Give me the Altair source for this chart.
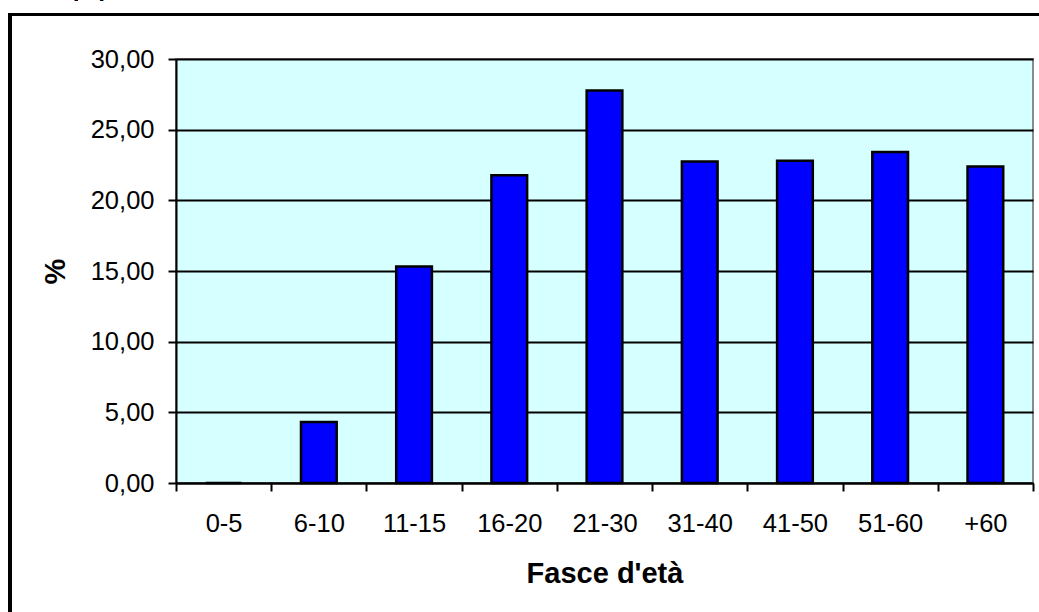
import altair as alt
import pandas as pd

# Age bands and share of each band (%)
fasce = ["0-5", "6-10", "11-15", "16-20", "21-30", "31-40", "41-50", "51-60", "+60"]
percentuali = [0.0, 4.32, 15.31, 21.78, 27.78, 22.74, 22.80, 23.42, 22.40]
y_ticks = [0, 5, 10, 15, 20, 25, 30]

df = pd.DataFrame({"fascia": fasce, "pct": percentuali})

FONT = "Liberation Sans"
W, H = 857, 424

bars = alt.Chart(df).mark_bar(
    color="#0000FF",
    stroke="#000000",
    strokeWidth=2.5,
    width=alt.RelativeBandSize(0.375),
).encode(
    x=alt.X(
        "fascia:N",
        sort=fasce,
        scale=alt.Scale(paddingInner=0, paddingOuter=0),
        axis=alt.Axis(
            title="Fasce d'età",
            tickBand="extent",
            labelAngle=0,
            labelFont=FONT,
            labelFontSize=25.5,
            labelColor="#000000",
            labelBaseline="alphabetic",
            labelPadding=40,
            tickSize=8,
            tickColor="#000000",
            tickWidth=2,
            domainColor="#000000",
            domainWidth=2,
            grid=False,
            titleFont=FONT,
            titleFontSize=29,
            titleFontWeight="bold",
            titleColor="#000000",
            titleX=W / 2,
            titleY=99,
            titleAlign="center",
            titleBaseline="alphabetic",
        ),
    ),
    y=alt.Y(
        "pct:Q",
        scale=alt.Scale(domain=[0, 30], nice=False),
        axis=alt.Axis(
            title="%",
            values=y_ticks,
            labelExpr="replace(format(datum.value, '.2f'), '.', ',')",
            labelFont=FONT,
            labelFontSize=25.5,
            labelColor="#000000",
            labelPadding=14,
            tickSize=8,
            tickColor="#000000",
            tickWidth=2,
            domainColor="#000000",
            domainWidth=2,
            grid=True,
            gridColor="#000000",
            gridWidth=2,
            titleFont=FONT,
            titleFontSize=29,
            titleFontWeight="bold",
            titleColor="#000000",
            titleAngle=270,
            titleX=-121,
            titleY=H / 2,
            titleAlign="center",
            titleBaseline="middle",
        ),
    ),
)

# Outer chart frame
frame = alt.Chart(df).mark_rect(
    fill=None, stroke="#000000", strokeWidth=3, clip=False
).encode(
    x=alt.value(-166), x2=alt.value(920),
    y=alt.value(-44.5), y2=alt.value(620),
)

# Top heading, running off the upper page edge
heading = alt.Chart(df).mark_text(
    text="(%)", font=FONT, fontSize=25, align="center", baseline="alphabetic",
    color="#000000", clip=False,
).encode(
    x=alt.value(-87), y=alt.value(-63.5),
)

chart = alt.layer(frame, heading, bars).properties(
    width=W,
    height=H,
    padding={"left": 176, "top": 59, "right": 6, "bottom": 129},
    autosize=alt.AutoSizeParams(type="none"),
    background="#FFFFFF",
).configure_view(
    fill="#D6FFFF",
    stroke="#8A8A8A",
    strokeWidth=2,
)

chart.save("out.html", embed_options={"renderer": "svg", "actions": False})
